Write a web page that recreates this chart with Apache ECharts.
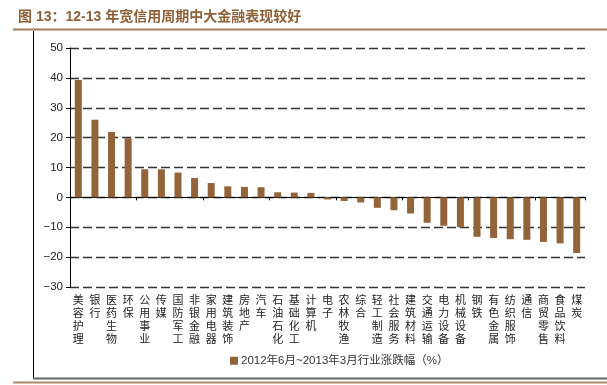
<!DOCTYPE html>
<html><head><meta charset="utf-8">
<script src="https://cdn.jsdelivr.net/npm/echarts@6/dist/echarts.min.js"></script>
<style>html,body{margin:0;padding:0;background:#fff}#c{width:607px;height:385px}</style>
</head><body><div id="c"></div>
<script>
var categories = ['美容护理','银行','医药生物','环保','公用事业','传媒','国防军工','非银金融','家用电器','建筑装饰','房地产','汽车','石油石化','基础化工','计算机','电子','农林牧渔','综合','轻工制造','社会服务','建筑材料','交通运输','电力设备','机械设备','钢铁','有色金属','纺织服饰','通信','商贸零售','食品饮料','煤炭'];
var values = [39.3,26.0,21.9,19.8,9.4,9.4,8.3,6.5,4.8,3.7,3.5,3.4,1.7,1.6,1.5,-0.7,-1.2,-1.7,-3.5,-4.3,-5.4,-8.5,-9.5,-10.0,-13.2,-13.6,-14.0,-14.2,-14.9,-15.4,-18.6];
var seriesName = '2012年6月~2013年3月行业涨跌幅（%）';
var titleText = '图 13：12-13 年宽信用周期中大金融表现较好';

var chart = echarts.init(document.getElementById('c'), null, {renderer:'canvas'});
var font = "'Liberation Sans','Noto Sans CJK SC',sans-serif";
chart.setOption({
  animation:false,
  title:{text:titleText,left:13,top:5,textStyle:{color:'#8f5f36',fontSize:14,fontWeight:'bold',fontFamily:"'Liberation Sans','Noto Sans CJK SC',sans-serif"}},
  graphic:[
    {type:'line',shape:{x1:13,y1:29.5,x2:607,y2:29.5},style:{stroke:'#a77b55',lineWidth:2}},
    {type:'line',shape:{x1:33.5,y1:31,x2:33.5,y2:379},style:{stroke:'#000',lineWidth:1}},
    {type:'line',shape:{x1:33,y1:378.5,x2:607,y2:378.5},style:{stroke:'#666',lineWidth:2}},
    {type:'line',shape:{x1:13,y1:382.5,x2:607,y2:382.5},style:{stroke:'#b08a66',lineWidth:2}}
  ],
  legend:{data:[seriesName],top:350,left:225,icon:'rect',itemWidth:8,itemHeight:8,itemGap:4,
    textStyle:{fontSize:11.5,color:'#333',fontFamily:font,padding:[0,0,0,-2]}},
  grid:{left:70,right:22,top:48,bottom:98},
  xAxis:[
    {type:'category',data:categories,position:'bottom',
     axisLine:{onZero:true,lineStyle:{color:'#000',width:1}},
     axisTick:{show:true,length:3,lineStyle:{color:'#000'}},
     axisLabel:{show:false},splitLine:{show:false}},
    {type:'category',data:categories,position:'bottom',
     axisLine:{show:false,onZero:false},axisTick:{show:false},
     axisLabel:{show:true,interval:0,margin:6,fontSize:11,lineHeight:13,color:'#222',
       fontFamily:"'Noto Sans CJK SC',sans-serif",verticalAlign:'top',
       formatter:function(v){return v.split('').join('\n');}}}
  ],
  yAxis:{type:'value',min:-30,max:50,interval:10,
    axisLine:{show:true,lineStyle:{color:'#000',width:1}},
    axisTick:{show:true,length:4,lineStyle:{color:'#000'}},
    axisLabel:{fontSize:11.5,color:'#222',margin:7,fontFamily:font,
      formatter:function(v){return v<0?'\u2212'+(-v):String(v);}},
    splitLine:{show:true,lineStyle:{color:'#333',width:1.3,type:[9,4]}}},
  series:[{name:seriesName,type:'bar',xAxisIndex:0,data:values,barWidth:7,
    itemStyle:{color:'#93633a'}}]
});
</script></body></html>
